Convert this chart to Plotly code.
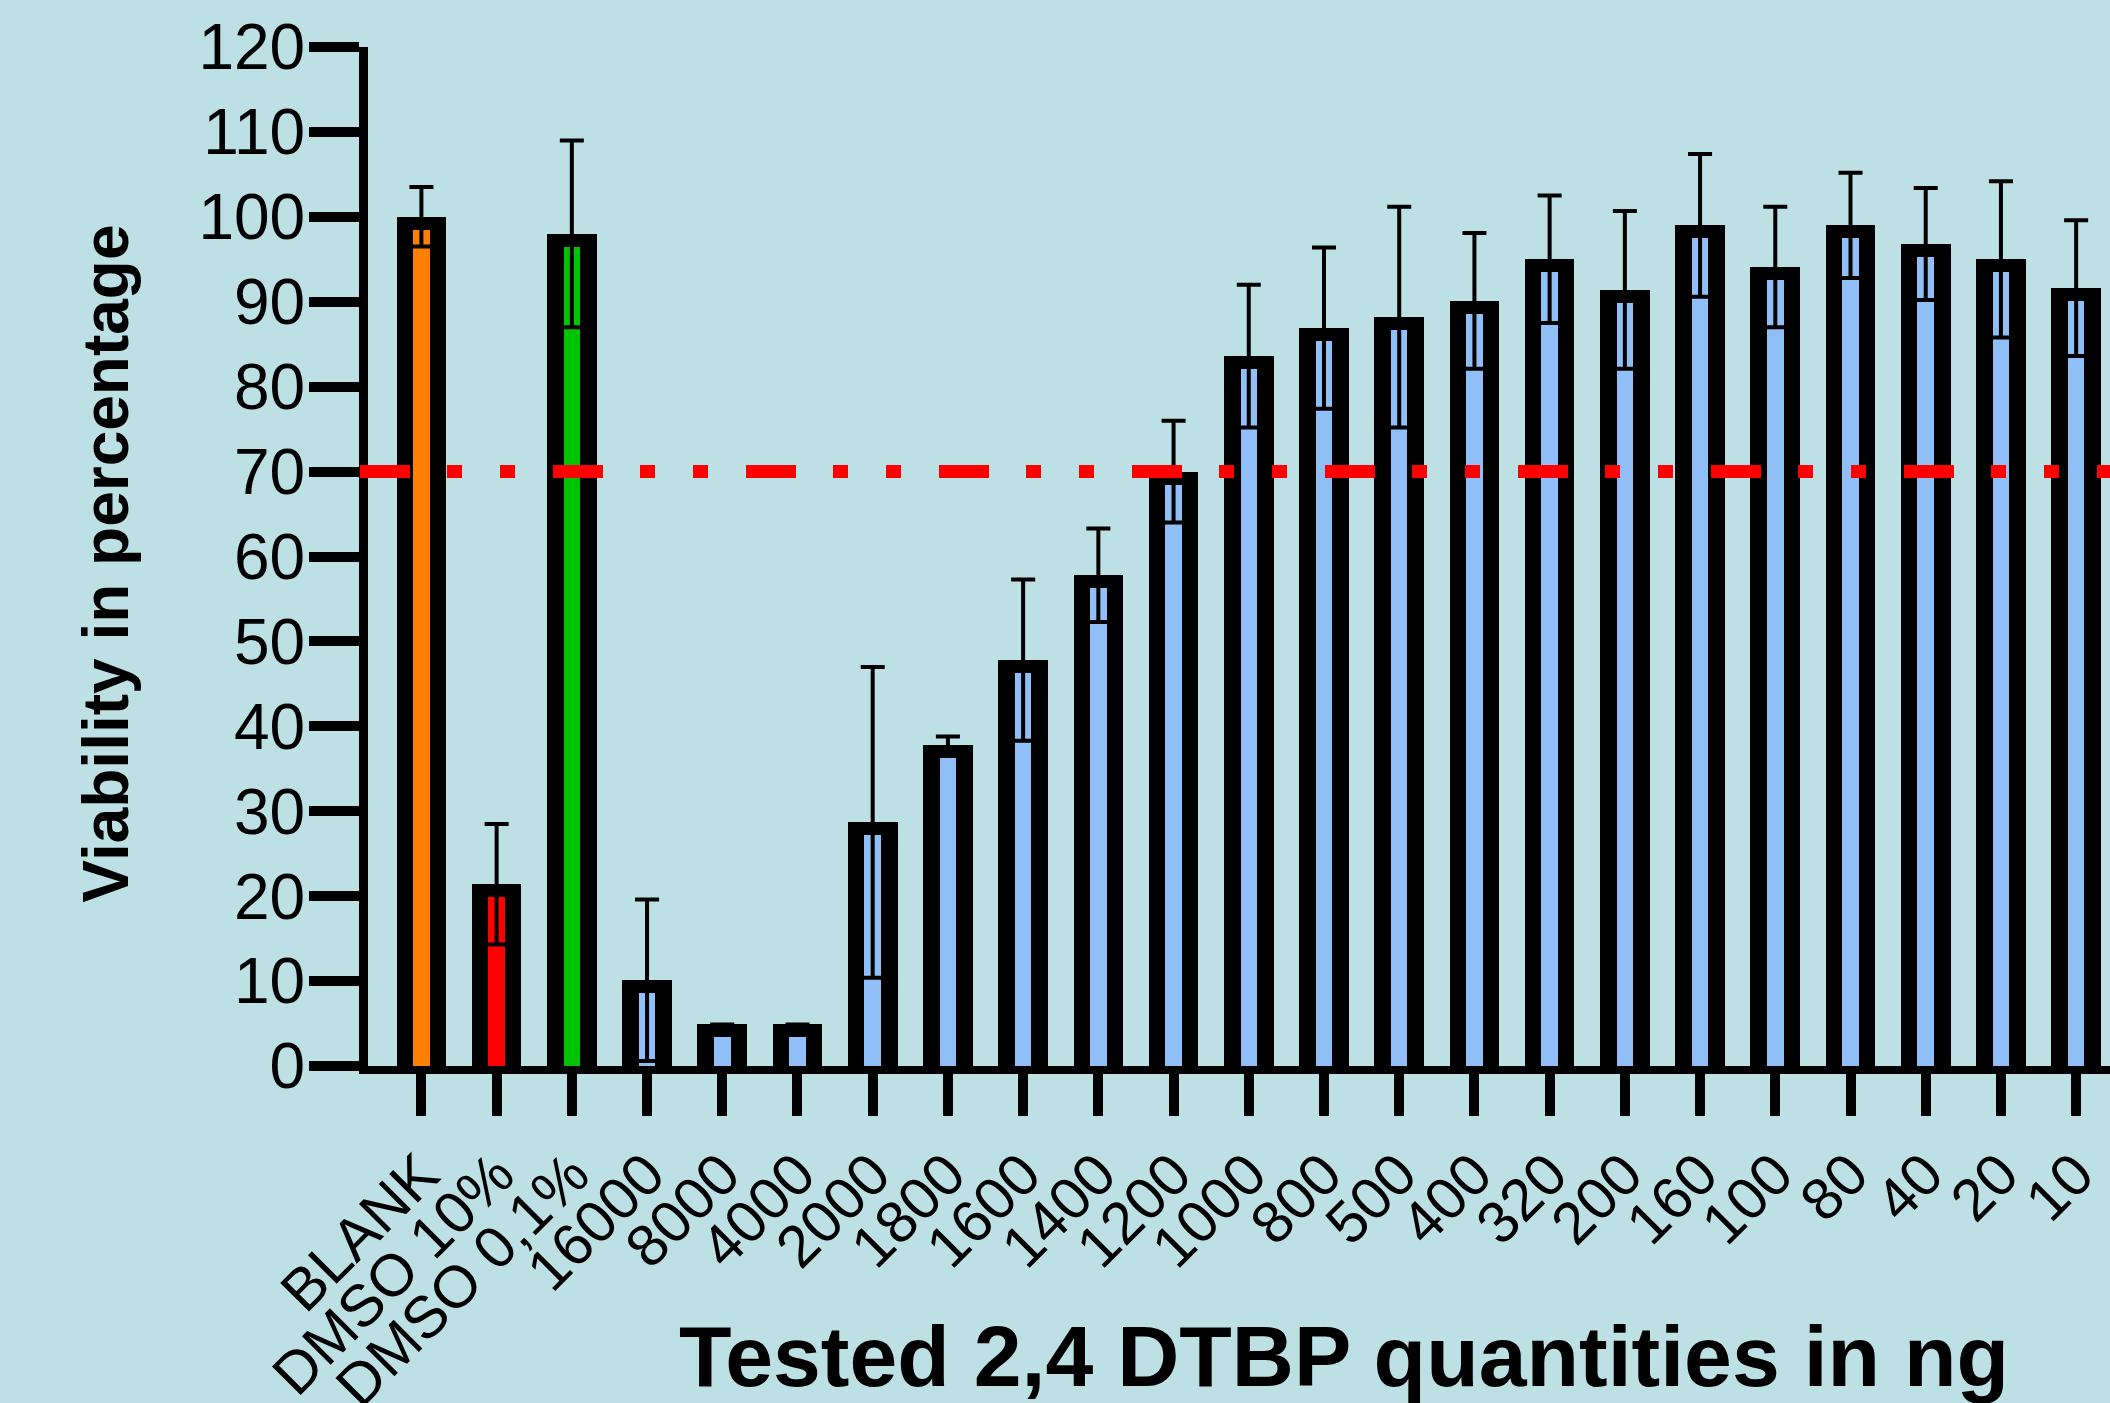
import plotly.graph_objects as go

# ---- data ----
categories = ["BLANK", "DMSO 10%", "DMSO 0,1%", "16000", "8000", "4000", "2000",
              "1800", "1600", "1400", "1200", "1000", "800", "500", "400", "320",
              "200", "160", "100", "80", "40", "20", "10"]
viability = [100.0, 21.4, 98.0, 10.1, 4.9, 4.9, 28.7,
             37.8, 47.8, 57.8, 70.0, 83.6, 86.9, 88.2, 90.1, 95.0,
             91.4, 99.0, 94.1, 99.0, 96.8, 95.0, 91.6]
sd = [3.5, 7.1, 11.0, 9.5, 0.0, 0.0, 18.3,
      1.0, 9.5, 5.5, 6.0, 8.4, 9.5, 13.0, 8.0, 7.5,
      9.3, 8.4, 7.1, 6.2, 6.6, 9.2, 8.0]
threshold = 70
y_ticks = list(range(0, 121, 10))

# ---- styles ----
BG = "#BDE0E4"
ORANGE = "#FF8000"
RED = "#FF0000"
GREEN = "#00C400"
BLUE = "#90BEF6"
fill_colors = [ORANGE, RED, GREEN] + [BLUE] * (len(categories) - 3)

W, H = 2110, 1403
ML, MR, MT, MB = 368, 0, 47, 337
plot_w = W - ML - MR
plot_h = H - MT - MB
y_range = [0, 120]
px_per_unit = plot_h / (y_range[1] - y_range[0])
top_border_px = 13
inner_top = [v - top_border_px / px_per_unit for v in viability]

x = list(range(len(categories)))
FONT = "Liberation Sans, Arial, sans-serif"

fig = go.Figure()
# outer black bars
fig.add_trace(go.Bar(x=x, y=viability, width=0.66, marker=dict(color="black", line=dict(width=0)),
                     showlegend=False, hoverinfo="skip"))
# inner coloured fill
fig.add_trace(go.Bar(x=x, y=inner_top, width=0.22, marker=dict(color=fill_colors, line=dict(width=0)),
                     showlegend=False, hoverinfo="skip"))
# error bars (mean +/- SD)
fig.add_trace(go.Scatter(x=x, y=viability, mode="markers",
                         marker=dict(size=1, color="rgba(0,0,0,0)"),
                         error_y=dict(type="data", array=sd, symmetric=True,
                                      color="black", thickness=4, width=12),
                         showlegend=False, hoverinfo="skip"))

# 70 % threshold line, starting under the y axis line
fig.add_shape(type="line", xref="paper", yref="y", x0=-8 / plot_w, x1=1,
              y0=threshold, y1=threshold, layer="above",
              line=dict(color="red", width=13, dash="50px,37px,15px,38px,15px,38px"))

fig.update_layout(
    width=W, height=H,
    margin=dict(l=ML, r=MR, t=MT, b=MB),
    paper_bgcolor=BG, plot_bgcolor=BG,
    barmode="overlay",
    bargap=0,
    font=dict(family=FONT, color="black"),
    xaxis=dict(
        range=[-0.71, 22.45], tickmode="array", tickvals=x, ticktext=categories,
        tickangle=-45, ticks="outside", ticklen=42, tickwidth=10, tickcolor="black",
        showline=True, linecolor="black", linewidth=8, showgrid=False, zeroline=False,
        tickfont=dict(family=FONT, size=59, color="black"), automargin=False,
    ),
    yaxis=dict(
        range=y_range, tickmode="array", tickvals=y_ticks,
        ticks="outside", ticklen=50, tickwidth=10, tickcolor="black",
        showline=True, linecolor="black", linewidth=9, showgrid=False, zeroline=False,
        tickfont=dict(family=FONT, size=64, color="black"), automargin=False,
        ticklabelstandoff=-9,
    ),
    annotations=[
        dict(text="<b>Viability in percentage</b>", xref="paper", yref="paper",
             x=(106 - ML) / plot_w, y=0.493, xanchor="center", yanchor="middle", textangle=-90,
             showarrow=False, font=dict(family=FONT, size=64, color="black")),
        dict(text="<b>Tested 2,4 DTBP quantities in ng</b>", xref="paper", yref="paper",
             x=(1344 - ML) / plot_w, y=-0.2845, xanchor="center", yanchor="middle",
             showarrow=False, font=dict(family=FONT, size=86, color="black")),
    ],
)

fig.write_html("out.html",
               config={"displayModeBar": False},
               post_script="document.body.style.margin='0';document.body.style.padding='0';"
                           "document.body.style.overflow='hidden';")
